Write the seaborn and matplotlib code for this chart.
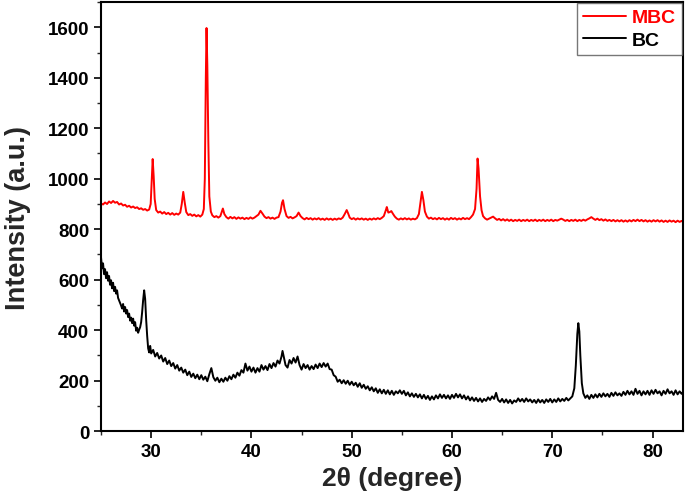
import matplotlib
matplotlib.use("Agg")
import matplotlib.pyplot as plt
import seaborn as sns
import pandas as pd
from matplotlib.ticker import MultipleLocator

# XRD pattern of the magnetic biochar (MBC)
mbc_2theta = [
    25.0, 25.2, 25.4, 25.6, 25.8, 26.0, 26.2, 26.4, 26.6, 26.8, 27.0, 27.2, 27.4, 27.6, 27.8,
    28.0, 28.2, 28.4, 28.6, 28.8, 29.0, 29.2, 29.4, 29.6, 29.8, 29.95, 30.05, 30.15, 30.25, 30.35,
    30.5, 30.7, 30.9, 31.1, 31.3, 31.5, 31.7, 31.9, 32.1, 32.3, 32.5, 32.7, 32.9, 33.05, 33.2,
    33.35, 33.5, 33.7, 33.9, 34.1, 34.3, 34.5, 34.7, 34.9, 35.1, 35.25, 35.35, 35.45, 35.52, 35.6,
    35.7, 35.8, 35.95, 36.1, 36.3, 36.5, 36.7, 36.9, 37.05, 37.15, 37.3, 37.5, 37.7, 37.9, 38.1,
    38.3, 38.5, 38.7, 38.9, 39.1, 39.3, 39.5, 39.7, 39.9, 40.1, 40.3, 40.5, 40.7, 40.9, 41.1,
    41.3, 41.5, 41.7, 41.9, 42.1, 42.3, 42.5, 42.7, 42.9, 43.05, 43.15, 43.3, 43.5, 43.7, 43.9,
    44.1, 44.3, 44.5, 44.7, 44.9, 45.1, 45.3, 45.5, 45.7, 45.9, 46.1, 46.3, 46.5, 46.7, 46.9,
    47.1, 47.3, 47.5, 47.7, 47.9, 48.1, 48.3, 48.5, 48.7, 48.9, 49.1, 49.3, 49.5, 49.65, 49.8,
    50.0, 50.2, 50.4, 50.6, 50.8, 51.0, 51.2, 51.4, 51.6, 51.8, 52.0, 52.2, 52.4, 52.6, 52.8,
    53.0, 53.2, 53.4, 53.5, 53.65, 53.8, 53.95, 54.1, 54.3, 54.5, 54.7, 54.9, 55.1, 55.3, 55.5,
    55.7, 55.9, 56.1, 56.3, 56.5, 56.7, 56.85, 57.0, 57.15, 57.3, 57.5, 57.7, 57.9, 58.1, 58.3,
    58.5, 58.7, 58.9, 59.1, 59.3, 59.5, 59.7, 59.9, 60.1, 60.3, 60.5, 60.7, 60.9, 61.1, 61.3,
    61.5, 61.7, 61.9, 62.1, 62.3, 62.45, 62.55, 62.65, 62.72, 62.8, 62.95, 63.1, 63.3, 63.5, 63.7,
    63.9, 64.1, 64.3, 64.5, 64.7, 64.9, 65.1, 65.3, 65.5, 65.7, 65.9, 66.1, 66.3, 66.5, 66.7,
    66.9, 67.1, 67.3, 67.5, 67.7, 67.9, 68.1, 68.3, 68.5, 68.7, 68.9, 69.1, 69.3, 69.5, 69.7,
    69.9, 70.1, 70.3, 70.5, 70.7, 70.9, 71.1, 71.3, 71.5, 71.7, 71.9, 72.1, 72.3, 72.5, 72.7,
    72.9, 73.1, 73.3, 73.5, 73.7, 73.9, 74.1, 74.3, 74.5, 74.7, 74.9, 75.1, 75.3, 75.5, 75.7,
    75.9, 76.1, 76.3, 76.5, 76.7, 76.9, 77.1, 77.3, 77.5, 77.7, 77.9, 78.1, 78.3, 78.5, 78.7,
    78.9, 79.1, 79.3, 79.5, 79.7, 79.9, 80.1, 80.3, 80.5, 80.7, 80.9, 81.1, 81.3, 81.5, 81.7,
    81.9, 82.1, 82.3, 82.5, 82.7, 82.9, 83.0,
]
mbc_intensity = [
    902, 898, 906, 900, 910, 904, 912, 905, 908, 898, 902, 894, 897, 889, 893,
    886, 890, 884, 887, 880, 883, 877, 880, 874, 878, 900, 990, 1078, 1010, 920,
    876, 866, 870, 862, 868, 860, 865, 858, 864, 857, 862, 858, 866, 900, 948,
    905, 868, 856, 860, 853, 858, 851, 856, 850, 858, 880, 1000, 1400, 1597, 1450,
    1150, 930, 870, 855, 848, 852, 846, 852, 870, 882, 860, 848, 842, 849, 843,
    848, 841, 847, 842, 846, 840, 845, 841, 847, 842, 846, 852, 858, 873, 862,
    850, 844, 848, 842, 846, 841, 846, 848, 870, 905, 915, 880, 852, 845, 849,
    843, 847, 852, 866, 852, 844, 839, 845, 840, 844, 838, 843, 839, 844, 838,
    842, 837, 843, 838, 842, 837, 842, 838, 843, 840, 846, 860, 876, 862, 846,
    840, 844, 838, 843, 839, 843, 838, 842, 837, 842, 838, 843, 839, 844, 840,
    845, 852, 875, 888, 866, 868, 872, 862, 850, 842, 838, 843, 839, 844, 839,
    843, 838, 842, 839, 844, 860, 905, 948, 915, 870, 850, 842, 846, 840, 844,
    839, 845, 840, 844, 838, 843, 838, 845, 840, 844, 838, 843, 839, 845, 840,
    844, 840, 848, 858, 880, 960, 1080, 1040, 990, 930, 875, 852, 843, 838, 842,
    846, 850, 843, 837, 841, 835, 840, 834, 839, 833, 838, 832, 837, 833, 838,
    832, 837, 833, 838, 832, 837, 833, 838, 832, 837, 833, 838, 832, 837, 833,
    838, 832, 837, 834, 838, 842, 838, 833, 837, 832, 837, 833, 838, 832, 837,
    833, 838, 834, 839, 843, 848, 842, 837, 842, 836, 840, 834, 839, 833, 837,
    832, 837, 831, 836, 831, 836, 830, 835, 830, 836, 831, 837, 832, 838, 832,
    837, 831, 836, 830, 835, 830, 836, 831, 836, 830, 835, 829, 834, 829, 835,
    830, 834, 828, 834, 829, 833, 830,
]

# XRD pattern of the pristine biochar (BC)
bc_2theta = [
    25.0, 25.1, 25.2, 25.3, 25.4, 25.5, 25.6, 25.7, 25.8, 25.9, 26.0, 26.1, 26.2, 26.3, 26.4,
    26.5, 26.6, 26.7, 26.8, 26.9, 27.0, 27.1, 27.2, 27.3, 27.4, 27.5, 27.6, 27.7, 27.8, 27.9,
    28.0, 28.1, 28.2, 28.3, 28.4, 28.5, 28.6, 28.7, 28.8, 28.9, 29.0, 29.1, 29.2, 29.3, 29.4,
    29.5, 29.6, 29.7, 29.8, 29.9, 30.0, 30.2, 30.4, 30.6, 30.8, 31.0, 31.2, 31.4, 31.6, 31.8,
    32.0, 32.2, 32.4, 32.6, 32.8, 33.0, 33.2, 33.4, 33.6, 33.8, 34.0, 34.2, 34.4, 34.6, 34.8,
    35.0, 35.2, 35.4, 35.6, 35.8, 36.0, 36.2, 36.4, 36.6, 36.8, 37.0, 37.2, 37.4, 37.6, 37.8,
    38.0, 38.2, 38.4, 38.6, 38.8, 39.0, 39.2, 39.4, 39.6, 39.8, 40.0, 40.2, 40.4, 40.6, 40.8,
    41.0, 41.2, 41.4, 41.6, 41.8, 42.0, 42.2, 42.4, 42.6, 42.8, 43.0, 43.1, 43.2, 43.4, 43.6,
    43.8, 44.0, 44.2, 44.4, 44.6, 44.8, 45.0, 45.2, 45.4, 45.6, 45.8, 46.0, 46.2, 46.4, 46.6,
    46.8, 47.0, 47.2, 47.4, 47.6, 47.8, 48.0, 48.2, 48.4, 48.6, 48.8, 49.0, 49.2, 49.4, 49.6,
    49.8, 50.0, 50.2, 50.4, 50.6, 50.8, 51.0, 51.2, 51.4, 51.6, 51.8, 52.0, 52.2, 52.4, 52.6,
    52.8, 53.0, 53.2, 53.4, 53.6, 53.8, 54.0, 54.2, 54.4, 54.6, 54.8, 55.0, 55.2, 55.4, 55.6,
    55.8, 56.0, 56.2, 56.4, 56.6, 56.8, 57.0, 57.2, 57.4, 57.6, 57.8, 58.0, 58.2, 58.4, 58.6,
    58.8, 59.0, 59.2, 59.4, 59.6, 59.8, 60.0, 60.2, 60.4, 60.6, 60.8, 61.0, 61.2, 61.4, 61.6,
    61.8, 62.0, 62.2, 62.4, 62.6, 62.8, 63.0, 63.2, 63.4, 63.6, 63.8, 64.0, 64.2, 64.4, 64.6,
    64.8, 65.0, 65.2, 65.4, 65.6, 65.8, 66.0, 66.2, 66.4, 66.6, 66.8, 67.0, 67.2, 67.4, 67.6,
    67.8, 68.0, 68.2, 68.4, 68.6, 68.8, 69.0, 69.2, 69.4, 69.6, 69.8, 70.0, 70.2, 70.4, 70.6,
    70.8, 71.0, 71.2, 71.4, 71.6, 71.8, 72.0, 72.2, 72.35, 72.5, 72.6, 72.7, 72.8, 72.95, 73.1,
    73.3, 73.5, 73.7, 73.9, 74.1, 74.3, 74.5, 74.7, 74.9, 75.1, 75.3, 75.5, 75.7, 75.9, 76.1,
    76.3, 76.5, 76.7, 76.9, 77.1, 77.3, 77.5, 77.7, 77.9, 78.1, 78.3, 78.5, 78.7, 78.9, 79.1,
    79.3, 79.5, 79.7, 79.9, 80.1, 80.3, 80.5, 80.7, 80.9, 81.1, 81.3, 81.5, 81.7, 81.9, 82.1,
    82.3, 82.5, 82.7, 82.9, 83.0,
]
bc_intensity = [
    688, 645, 665, 622, 642, 606, 630, 596, 615, 580, 598, 566, 588, 555, 572,
    545, 558, 528, 518, 508, 498, 486, 504, 474, 492, 466, 480, 452, 466, 438,
    450, 428, 446, 418, 432, 398, 410, 390, 402, 412, 432, 472, 520, 558, 524,
    442, 378, 328, 312, 338, 308, 322, 296, 310, 288, 300, 276, 290, 266, 280,
    258, 270, 248, 262, 240, 252, 232, 244, 222, 236, 215, 228, 210, 224, 206,
    222, 204, 216, 198, 226, 250, 214, 200, 212, 194, 208, 196, 212, 200, 218,
    206, 224, 212, 232, 220, 242, 232, 268, 240, 256, 236, 252, 232, 250, 236,
    262, 244, 258, 242, 266, 250, 270, 256, 280, 268, 296, 318, 300, 262, 252,
    282, 268, 290, 272, 296, 262, 244, 266, 250, 262, 244, 258, 246, 264, 250,
    268, 254, 270, 256, 268, 246, 244, 222, 216, 196, 204, 190, 202, 188, 200,
    184, 196, 182, 192, 176, 190, 172, 184, 168, 178, 162, 174, 158, 170, 152,
    166, 150, 164, 148, 162, 146, 160, 144, 158, 150, 162, 148, 160, 142, 154,
    138, 150, 136, 148, 134, 146, 130, 144, 128, 140, 124, 138, 126, 142, 130,
    146, 132, 144, 130, 142, 128, 144, 132, 148, 134, 146, 130, 142, 126, 138,
    122, 134, 120, 132, 118, 130, 116, 128, 120, 134, 124, 138, 128, 152, 124,
    116, 128, 114, 126, 112, 124, 110, 122, 116, 130, 118, 128, 116, 130, 118,
    126, 114, 124, 112, 126, 114, 124, 112, 126, 116, 128, 114, 126, 116, 130,
    118, 128, 120, 132, 122, 130, 138, 170, 260, 385, 428, 395, 300, 190, 150,
    132, 142, 128, 144, 132, 146, 134, 148, 136, 150, 138, 148, 136, 152, 140,
    154, 142, 150, 140, 156, 144, 160, 146, 158, 144, 168, 148, 160, 142, 158,
    146, 160, 144, 162, 148, 164, 150, 158, 142, 160, 148, 166, 150, 158, 144,
    162, 146, 158, 148, 154,
]

y_ticks = [0, 200, 400, 600, 800, 1000, 1200, 1400, 1600]
x_ticks = [30, 40, 50, 60, 70, 80]

sns.set_style("ticks")
plt.rcParams['font.family'] = ['Liberation Sans', 'DejaVu Sans']
plt.rcParams['font.weight'] = 'bold'

mbc = pd.DataFrame({'two_theta': mbc_2theta, 'intensity': mbc_intensity})
bc = pd.DataFrame({'two_theta': bc_2theta, 'intensity': bc_intensity})

fig = plt.figure(figsize=(6.85, 5.02), dpi=100)
ax = fig.add_axes([0.1475, 0.139, 0.849, 0.855])

sns.lineplot(data=mbc, x='two_theta', y='intensity', color='#ff0000', lw=1.4,
             label='MBC', ax=ax, sort=False)
sns.lineplot(data=bc, x='two_theta', y='intensity', color='black', lw=1.4,
             label='BC', ax=ax, sort=False)

ax.set_xlim(25, 83)
ax.set_ylim(0, 1700)
ax.set_xticks(x_ticks)
ax.set_yticks(y_ticks)
ax.xaxis.set_minor_locator(MultipleLocator(5))
ax.yaxis.set_minor_locator(MultipleLocator(100))
ax.tick_params(axis='both', which='major', direction='out', length=5, width=1.2,
               labelsize=13.5, colors='black', top=False, right=False)
ax.tick_params(axis='both', which='minor', direction='out', length=3, width=1.0,
               top=False, right=False)
for lbl in ax.get_xticklabels() + ax.get_yticklabels():
    lbl.set_fontweight('bold')
for sp in ax.spines.values():
    sp.set_visible(True)
    sp.set_linewidth(1.5)
    sp.set_color('black')

ax.set_xlabel('2θ (degree)', fontsize=19, fontweight='bold')
ax.set_ylabel('Intensity (a.u.)', fontsize=19.5, fontweight='bold')
ax.xaxis.set_label_coords(0.5, -0.08)
ax.yaxis.set_label_coords(-0.12, 0.5)

leg = ax.legend(loc='upper right', fontsize=14, frameon=True, fancybox=False,
                borderaxespad=0.05, handlelength=2.2, handletextpad=0.3,
                borderpad=0.3, labelspacing=0.25)
leg.get_frame().set_edgecolor('#555555')
leg.get_frame().set_linewidth(1.0)
for txt, col in zip(leg.get_texts(), ['#ff0000', 'black']):
    txt.set_color(col)
    txt.set_fontweight('bold')

fig.savefig('out.png', dpi=100)
